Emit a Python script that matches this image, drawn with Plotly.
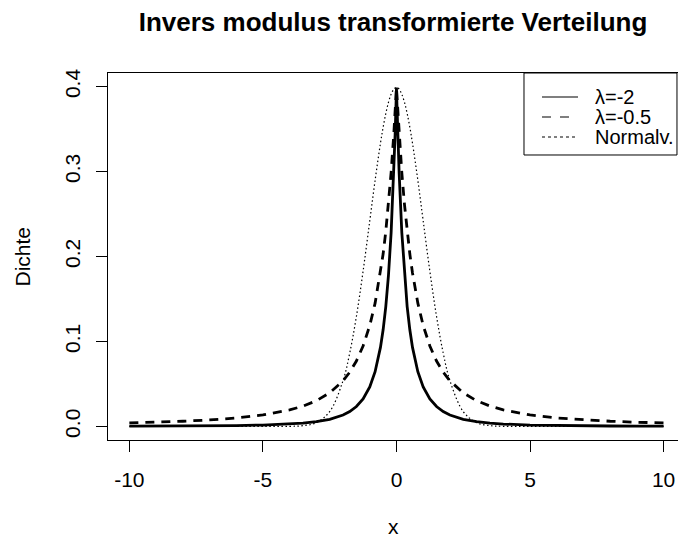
import plotly.graph_objects as go

# x-Stützstellen (gemeinsam für alle drei Kurven)
x_vals = [-10, -9, -8, -7, -6, -5, -4, -3.5, -3, -2.5, -2, -1.75, -1.5, -1.25, -1,
          -0.8, -0.6, -0.5, -0.4, -0.3, -0.2, -0.1, -0.05, -0.02, 0,
          0.02, 0.05, 0.1, 0.2, 0.3, 0.4, 0.5, 0.6, 0.8,
          1, 1.25, 1.5, 1.75, 2, 2.5, 3, 3.5, 4, 5, 6, 7, 8, 9, 10]

# Dichte, lambda = -2
dens_l2 = [0.00027, 0.00035, 0.00048, 0.00069, 0.0010, 0.0016, 0.0028, 0.0039, 0.0056,
           0.0084, 0.0134, 0.0175, 0.0234, 0.0323, 0.0465,
           0.0644, 0.0930, 0.1137, 0.1411, 0.1778, 0.2282, 0.2986, 0.3442, 0.3759, 0.3989,
           0.3759, 0.3442, 0.2986, 0.2282, 0.1778, 0.1411, 0.1137, 0.0930, 0.0644,
           0.0465, 0.0323, 0.0234, 0.0175, 0.0134, 0.0084, 0.0056, 0.0039, 0.0028,
           0.0016, 0.0010, 0.00069, 0.00048, 0.00035, 0.00027]

# Dichte, lambda = -0.5
dens_l05 = [0.0041, 0.0049, 0.0061, 0.0076, 0.0099, 0.0135, 0.0194, 0.0239, 0.0302,
            0.0395, 0.0537, 0.0638, 0.0770, 0.0946, 0.1188,
            0.1451, 0.1806, 0.2029, 0.2295, 0.2611, 0.2989, 0.3443, 0.3704, 0.3875, 0.3989,
            0.3875, 0.3704, 0.3443, 0.2989, 0.2611, 0.2295, 0.2029, 0.1806, 0.1451,
            0.1188, 0.0946, 0.0770, 0.0638, 0.0537, 0.0395, 0.0302, 0.0239, 0.0194,
            0.0135, 0.0099, 0.0076, 0.0061, 0.0049, 0.0041]

# Normalverteilung
dens_norm = [0, 0, 0, 0, 0, 0, 0.0001, 0.0009, 0.0044,
             0.0175, 0.0540, 0.0863, 0.1295, 0.1826, 0.2420,
             0.2897, 0.3332, 0.3521, 0.3683, 0.3814, 0.3910, 0.3970, 0.3984, 0.3988, 0.3989,
             0.3988, 0.3984, 0.3970, 0.3910, 0.3814, 0.3683, 0.3521, 0.3332, 0.2897,
             0.2420, 0.1826, 0.1295, 0.0863, 0.0540, 0.0175, 0.0044, 0.0009, 0.0001,
             0, 0, 0, 0, 0, 0]

x_ticks = [-10, -5, 0, 5, 10]
x_ticklabels = ["-10", "-5", "0", "5", "10"]
y_ticks = [0.0, 0.1, 0.2, 0.3, 0.4]
y_ticklabels = ["0.0", "0.1", "0.2", "0.3", "0.4"]

legend_names = ["λ=-2", "λ=-0.5", "Normalv."]
legend_dash = ["solid", "dash", "dot"]

FONT = "Liberation Sans, Arial, sans-serif"
AX_SIZE = 21

fig = go.Figure()
fig.add_trace(go.Scatter(
    x=x_vals, y=dens_l2, mode="lines", name=legend_names[0],
    line=dict(color="black", width=2.8),
))
fig.add_trace(go.Scatter(
    x=x_vals, y=dens_l05, mode="lines", name=legend_names[1],
    line=dict(color="black", width=2.8, dash="9px,7px"),
))
fig.add_trace(go.Scatter(
    x=x_vals, y=dens_norm, mode="lines", name=legend_names[2],
    line=dict(color="black", width=1.2, dash="1.5px,2.5px", shape="spline"),
))

# Legende wie in base R (Kasten oben rechts, dünne Linien)
fig.add_shape(type="rect", xref="paper", yref="paper",
              x0=0.7298, x1=0.9982, y0=0.7766, y1=1.0,
              line=dict(color="black", width=1), fillcolor="white", layer="above")
leg_y = [0.9346, 0.8801, 0.8256]
for name, dash, yy in zip(legend_names, legend_dash, leg_y):
    fig.add_shape(type="line", xref="paper", yref="paper",
                  x0=0.7614, x1=0.8246, y0=yy, y1=yy,
                  line=dict(color="black", width=1.2, dash=dash))
    fig.add_annotation(text=name, xref="paper", yref="paper", x=0.8509, y=yy,
                       xanchor="left", yanchor="middle", showarrow=False,
                       font=dict(size=20))

# Achsentitel
fig.add_annotation(text="x", xref="paper", yref="paper", x=0.5, y=0,
                   yshift=-86, yanchor="middle", showarrow=False,
                   font=dict(size=AX_SIZE))
fig.add_annotation(text="Dichte", xref="paper", yref="paper", x=0, y=0.5,
                   xshift=-86, xanchor="center", textangle=-90, showarrow=False,
                   font=dict(size=AX_SIZE))

fig.update_layout(
    width=678, height=540,
    showlegend=False,
    paper_bgcolor="white", plot_bgcolor="white",
    font=dict(family=FONT, size=AX_SIZE, color="black"),
    title=dict(text="<b>Invers modulus transformierte Verteilung</b>",
               x=0.5, xref="paper", xanchor="center",
               y=0.9593, yref="container", yanchor="middle",
               font=dict(size=26)),
    xaxis=dict(range=[-10.8, 10.54], tickvals=x_ticks, ticktext=x_ticklabels,
               ticks="outside", ticklen=11,
               tickcolor="black", showgrid=False, zeroline=False,
               showline=True, linecolor="black", linewidth=1, mirror=True,
               ticklabelstandoff=10),
    yaxis=dict(range=[-0.016, 0.416], tickvals=y_ticks, ticktext=y_ticklabels,
               ticks="outside", ticklen=11, tickangle=-90,
               tickcolor="black", showgrid=False, zeroline=False,
               showline=True, linecolor="black", linewidth=1, mirror=True,
               ticklabelstandoff=8),
    margin=dict(l=108, r=0, t=73, b=100),
)

fig.write_html("out.html", config={"displayModeBar": False},
               post_script="document.body.style.margin='0';")
